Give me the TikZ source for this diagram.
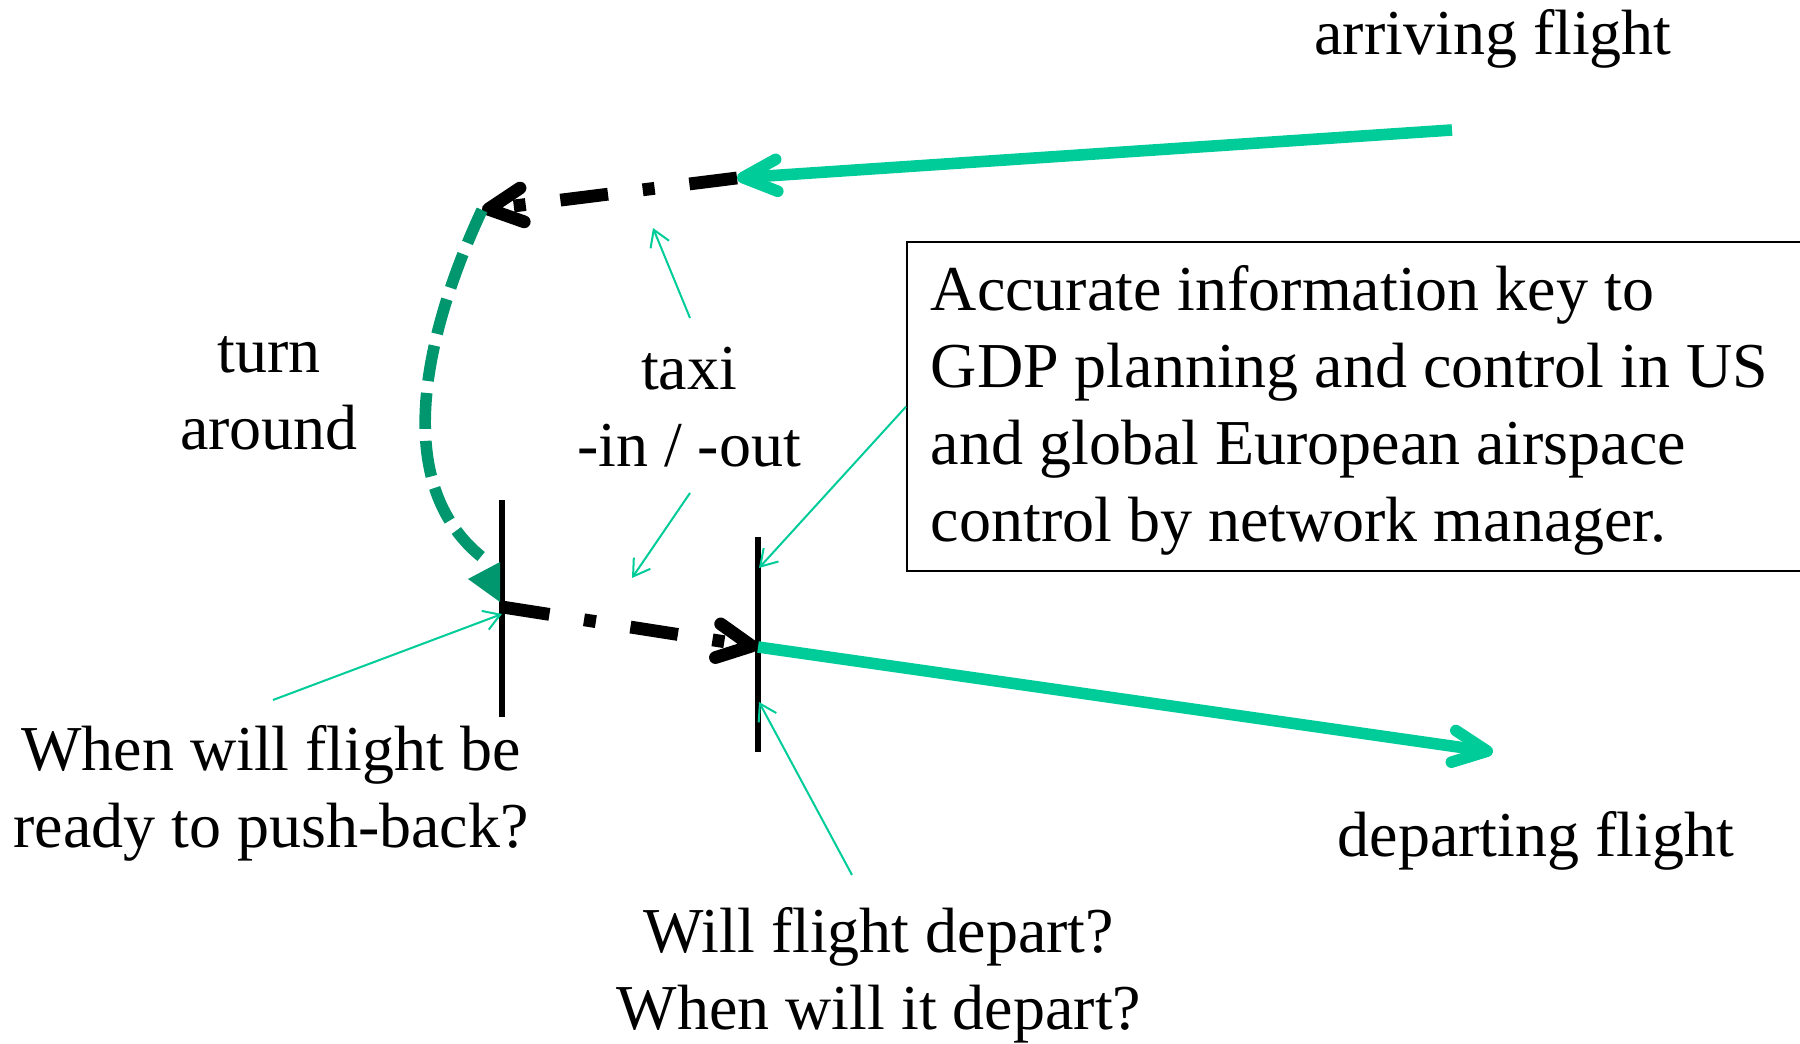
\documentclass[tikz,border=0pt]{standalone}
\usepackage{fontspec}
\setmainfont{Liberation Serif}
\usetikzlibrary{arrows.meta}
\usetikzlibrary{positioning}
\definecolor{flightgreen}{RGB}{0,204,153}
\definecolor{turngreen}{RGB}{0,150,110}

\begin{document}
\begin{tikzpicture}[x=0.25pt,y=-0.25pt,
lbl/.style = {align=center, inner sep=0pt, anchor=base, font=\fontsize{16}{19.25}\selectfont},
flight/.style = {draw=flightgreen, line width=2.9pt, -{Straight Barb[length=8.5pt,width=8pt,round]}},
taxiway/.style = {draw=black, line width=3.2pt, dash pattern=on 12pt off 8.75pt on 3pt off 8.75pt, -{Straight Barb[length=8.5pt,width=8.5pt,round]}},
turnaround/.style = {draw=turngreen, line width=2.9pt, dash pattern=on 9pt off 3pt},
pointer/.style = {draw=flightgreen, line width=0.5pt, -{Straight Barb[length=4pt,width=5pt]}},
barline/.style = {draw=black, line width=1.4pt}
]
\useasboundingbox (0,0) rectangle (1800,1044);
\clip (0,0) rectangle (1800,1044);

% labels (base = last line)
\node (arriving) [lbl] at (1493,55) {arriving flight};
\node (departing) [lbl] at (1536,857) {departing flight};
\node (turnlbl) [lbl] at (269,450) {turn\\around};
\node (taxi) [lbl] at (689,467) {taxi\\-in / -out};
\node (pushq) [lbl] at (271,848) {When will flight be\\ready to push-back?};
\node (departq) [lbl] at (879,1030) {Will flight depart?\\When will it depart?};
\node (infobox) [draw, line width=0.6pt, anchor=north west, minimum width=231pt, minimum height=82.25pt, inner sep=0pt] at (906,241) {};
\node (infotext) [lbl, align=left, anchor=base west] at (930,542) {Accurate information key to\\GDP planning and control in US\\and global European airspace\\control by network manager.};

% points on the ground
\coordinate (arrfrom) at (1452,130);
\coordinate (gatein) at (737,178);
\coordinate (turnstart) at (482,210);
\coordinate (turnend) at (483,558);
\coordinate (standtop) at (502,500);
\coordinate (standbot) at (502,717);
\coordinate (pushback) at (502,607);
\coordinate (rwytop) at (758,537);
\coordinate (rwybot) at (758,752);
\coordinate (takeoff) at (758,647);
\coordinate (depto) at (1493,752);

% pointer ends
\coordinate (taxiA) at (690,318);
\coordinate (taxiAend) at (653,228);
\coordinate (taxiB) at (690,493);
\coordinate (taxiBend) at (632,578);
\coordinate (rwyhit) at (759,568);
\coordinate (pushptr) at (273,700);
\coordinate (standhit) at (502,614);
\coordinate (departptr) at (852,875);
\coordinate (rwylow) at (759,702);

\draw[barline] (standtop) -- (standbot);
\draw[barline] (rwytop) -- (rwybot);

\draw[flight] (arrfrom) -- (gatein);
\draw[taxiway] (gatein) -- (turnstart);
\draw[turnaround] (turnstart) .. controls (440,300) and (378,475) .. (turnend);
\fill[turngreen] (500,562) -- (468,579) -- (500,602) -- cycle;
\draw[taxiway] (pushback) -- (takeoff);
\draw[flight] (takeoff) -- (depto);

\draw[pointer] (taxiA) -- (taxiAend);
\draw[pointer] (taxiB) -- (taxiBend);
\draw[pointer] (infobox.west) -- (rwyhit);
\draw[pointer] (pushptr) -- (standhit);
\draw[pointer] (departptr) -- (rwylow);
\end{tikzpicture}
\end{document}
